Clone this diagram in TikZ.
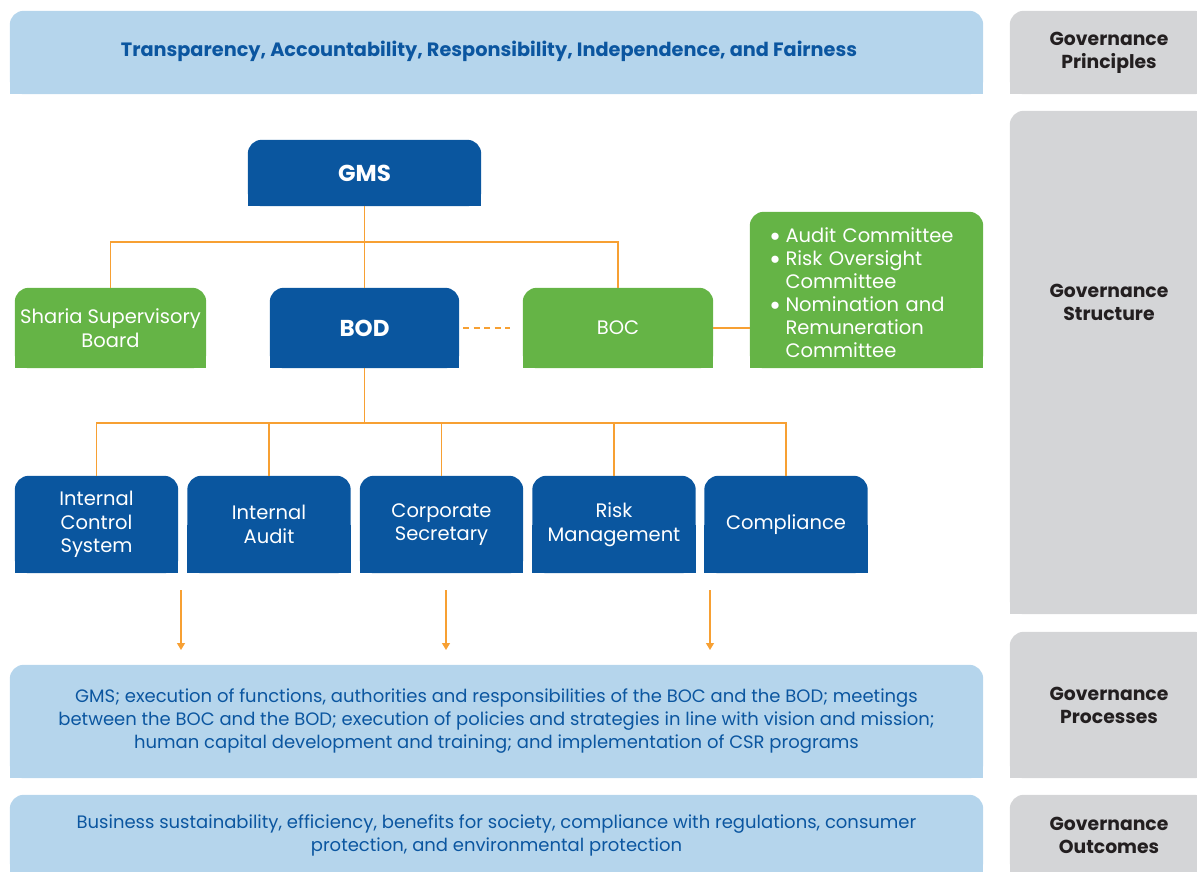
\documentclass[tikz,border=0pt]{standalone}
\usepackage{fontspec}
\usepackage{graphicx}
\setmainfont{Poppins}
\usetikzlibrary{arrows.meta,backgrounds}

\definecolor{dblue}{HTML}{0A569F}
\definecolor{lgreen}{HTML}{65B446}
\definecolor{lblue}{HTML}{B5D5EC}
\definecolor{lgray}{HTML}{D4D5D7}
\definecolor{orng}{HTML}{F7A033}
\definecolor{txtblue}{HTML}{0B56A0}
\definecolor{txtgray}{HTML}{231F20}

\newcommand{\cbul}{\makebox[16.5pt][l]{\smash{\raisebox{-0.2em}{\scalebox{1.5}{\textbullet}}}}}
\newcommand{\cgap}{\makebox[16.5pt][l]{}}

\begin{document}
\begin{tikzpicture}[x=1pt,y=-1pt,
    unit/.style={text=white,align=center,inner sep=0pt,font=\fontsize{19.5}{23.5}\selectfont},
    topunit/.style={unit,font=\fontsize{23}{26}\selectfont\bfseries},
    band/.style={text=txtblue,align=center,inner sep=0pt,font=\fontsize{18}{23}\selectfont},
    side/.style={text=txtgray,align=center,inner sep=0pt,font=\fontsize{18.8}{23}\selectfont\bfseries},
    link/.style={orng,line width=1.3pt},
    flow/.style={orng,line width=1.3pt,-{Triangle[width=8pt,length=7pt]}}]
    \useasboundingbox (0,0) rectangle (1197,872);

    % top band and side labels
    \node[minimum width=973pt,minimum height=83pt] (principles) at (496.5,52.5) {};
    \node[band,font=\fontsize{19.3}{23}\selectfont\bfseries] (tprin) at (489,51)
        {Transparency, Accountability, Responsibility, Independence, and Fairness};
    \node[side,minimum width=198pt,minimum height=83pt] (gprin) at (1109,52.5) {Governance\\Principles};
    \node[side,minimum width=198pt,minimum height=503pt] (gstruct) at (1109,362.5) {};
    \node[side] (tstruct) at (1109,302.5) {Governance\\Structure};
    \node[side,minimum width=198pt,minimum height=146pt] (gproc) at (1109,705) {Governance\\Processes};
    \node[side,minimum width=198pt,minimum height=81pt] (gout) at (1109,835.5) {Governance\\Outcomes};

    % structure
    \node[topunit,minimum width=233pt,minimum height=66pt] (gms) at (364.5,173) {GMS};
    \node[unit,minimum width=191pt,minimum height=80pt] (sharia) at (110.5,328) {Sharia Supervisory\\Board};
    \node[topunit,minimum width=189pt,minimum height=80pt] (bod) at (364.5,328) {BOD};
    \node[unit,minimum width=190pt,minimum height=80pt] (boc) at (618,328) {BOC};
    \node[minimum width=233pt,minimum height=156pt] (comm) at (866.5,290) {};
    \node[unit,align=left,text width=206pt,font=\fontsize{19.5}{23}\selectfont] (tcomm) at (872,292.5)
        {\cbul Audit Committee\\
         \cbul Risk Oversight\\
         \cgap Committee\\
         \cbul Nomination and\\
         \cgap Remuneration\\
         \cgap Committee};

    \node[unit,minimum width=163pt,minimum height=97pt] (ics) at (96.5,524.5) {Internal\\Control\\System};
    \node[unit,minimum width=163pt,minimum height=97pt] (ia) at (269,524.5) {Internal\\Audit};
    \node[unit,minimum width=163pt,minimum height=97pt] (cs) at (441.5,524.5) {Corporate\\Secretary};
    \node[unit,minimum width=163pt,minimum height=97pt] (rm) at (614,524.5) {Risk\\Management};
    \node[unit,minimum width=163pt,minimum height=97pt] (comp) at (786,524.5) {Compliance};

    % lower bands
    \node[band,minimum width=973pt,minimum height=113pt] (proc) at (496.5,721.5)
        {GMS; execution of functions, authorities and responsibilities of the BOC and the BOD; meetings\\
         between the BOC and the BOD; execution of policies and strategies in line with vision and mission;\\
         human capital development and training; and implementation of CSR programs};
    \node[band,minimum width=973pt,minimum height=81pt] (outc) at (496.5,835.5)
        {Business sustainability, efficiency, benefits for society, compliance with regulations, consumer\\
         protection, and environmental protection};

    % box fills, rounded on top only
    \begin{scope}[on background layer]
        \foreach \n/\c in {principles/lblue,proc/lblue,outc/lblue,gprin/lgray,gstruct/lgray,gproc/lgray,gout/lgray,
                           gms/dblue,bod/dblue,sharia/lgreen,boc/lgreen,comm/lgreen,
                           ics/dblue,ia/dblue,cs/dblue,rm/dblue,comp/dblue}{
            \fill[\c,rounded corners=14pt] (\n.south west) rectangle (\n.north east);
            \fill[\c] (\n.south west) rectangle (\n.east);
        }
    \end{scope}

    % connectors
    \coordinate (bar1) at (364.5,242);
    \coordinate (bar2) at (364.5,423);
    \draw[link] (gms.south) -- (bod.north);
    \draw[link] (sharia.north) |- (bar1) -| (boc.north);
    \draw[link] (boc.east) -- (comm.west |- boc.east);
    \draw[orng,line width=2.6pt,dash pattern=on 6pt off 4.5pt,shorten <=4pt,shorten >=13pt] (bod.east) -- (boc.west);
    \draw[link] (bod.south) -- (bar2);
    \foreach \n in {ics,ia,cs,rm,comp}{
        \draw[link] (bar2) -| (\n.north);
    }

    % arrows into processes
    \foreach \i/\x in {1/181,2/446,3/710}{
        \coordinate (a\i) at (\x,590);
        \coordinate (b\i) at (\x,650);
        \draw[flow] (a\i) -- (b\i);
    }
\end{tikzpicture}
\end{document}
